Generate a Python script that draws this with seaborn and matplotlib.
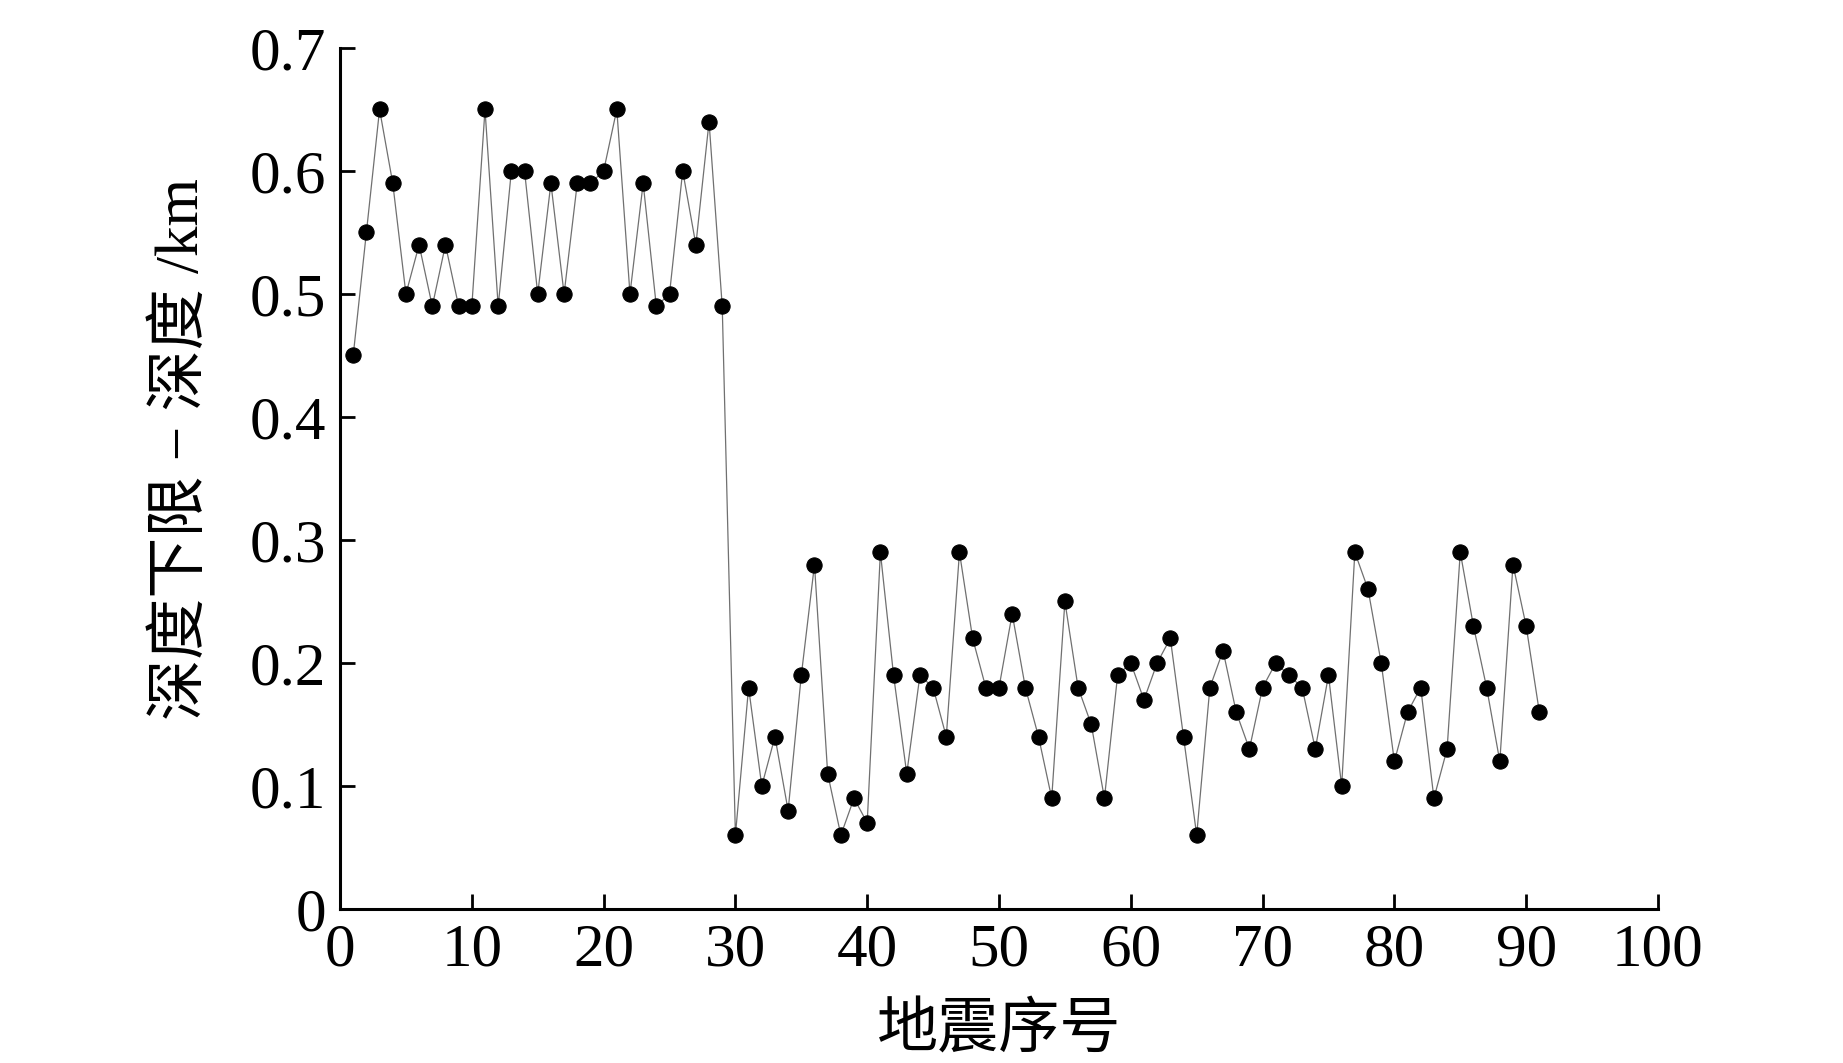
import numpy as np
import pandas as pd
import seaborn as sns
import matplotlib
matplotlib.use('Agg')
import matplotlib.pyplot as plt

#Data
quake_no=list(range(1,92))
depth_diff=[0.45,0.55,0.65,0.59,0.50,0.54,0.49,0.54,0.49,0.49,
            0.65,0.49,0.60,0.60,0.50,0.59,0.50,0.59,0.59,0.60,
            0.65,0.50,0.59,0.49,0.50,0.60,0.54,0.64,0.49,0.06,
            0.18,0.10,0.14,0.08,0.19,0.28,0.11,0.06,0.09,0.07,
            0.29,0.19,0.11,0.19,0.18,0.14,0.29,0.22,0.18,0.18,
            0.24,0.18,0.14,0.09,0.25,0.18,0.15,0.09,0.19,0.20,
            0.17,0.20,0.22,0.14,0.06,0.18,0.21,0.16,0.13,0.18,
            0.20,0.19,0.18,0.13,0.19,0.10,0.29,0.26,0.20,0.12,
            0.16,0.18,0.09,0.13,0.29,0.23,0.18,0.12,0.28,0.23,
            0.16]
x_ticks=[0,10,20,30,40,50,60,70,80,90,100]
y_ticks=[0,0.1,0.2,0.3,0.4,0.5,0.6,0.7]
y_ticklabels=['0','0.1','0.2','0.3','0.4','0.5','0.6','0.7']

df=pd.DataFrame({'no':quake_no,'diff':depth_diff})

sns.set_style('ticks')
plt.rcParams['font.family']=['Liberation Serif','Noto Sans CJK SC','DejaVu Sans']
plt.rcParams['xtick.direction']='in'
plt.rcParams['ytick.direction']='in'
plt.rcParams['text.color']='black'
plt.rcParams['axes.labelcolor']='black'
plt.rcParams['xtick.color']='black'
plt.rcParams['ytick.color']='black'
plt.rcParams['axes.edgecolor']='black'

fig=plt.figure(figsize=(18.43,10.63),dpi=100)
ax=fig.add_axes([0.1845,0.1449,0.7151,0.81])

sns.lineplot(data=df,x='no',y='diff',ax=ax,color='#707070',linewidth=0.9,
             marker='o',markersize=11,markerfacecolor='black',markeredgecolor='black')

ax.set_xlim(0,100)
ax.set_ylim(0,0.7)
ax.set_xticks(x_ticks)
ax.set_yticks(y_ticks)
ax.set_yticklabels(y_ticklabels)
ax.tick_params(axis='both',labelsize=44,length=11,width=2,pad=10,color='black',labelcolor='black')
ax.tick_params(axis='x',pad=10)
for s in ['left','bottom']:
    ax.spines[s].set_linewidth(2.2)
sns.despine(ax=ax)

ax.set_xlabel('地震序号',fontsize=44,labelpad=18)
ax.set_ylabel('深度下限 − 深度 /km',fontsize=44)
ax.yaxis.set_label_coords(-0.098,0.534)

fig.savefig('out.png',dpi=100)
